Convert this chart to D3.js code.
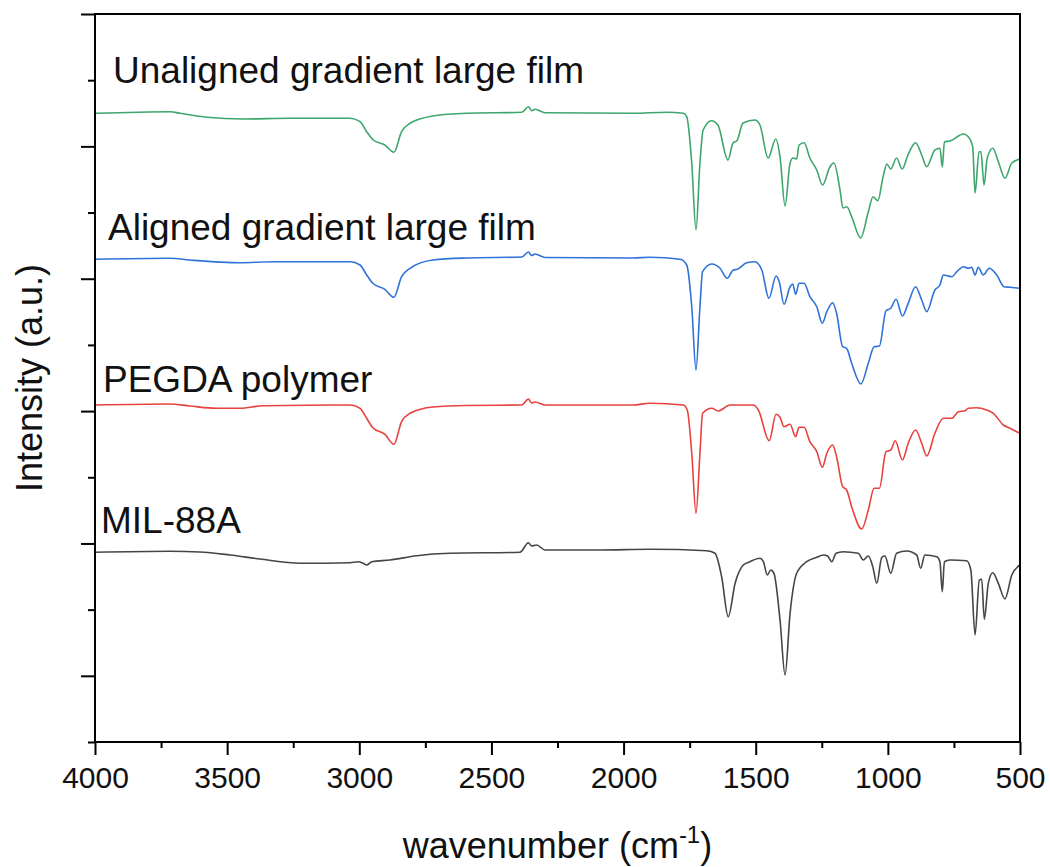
<!DOCTYPE html>
<html>
<head>
<meta charset="utf-8">
<script src="https://cdn.jsdelivr.net/npm/d3@7"></script>
<style>
  body { margin: 0; background: #fff; }
  svg text { font-family: "Liberation Sans", Arial, sans-serif; fill: #111; }
</style>
</head>
<body>
<div id="chart"></div>
<script>
// spectra: [wavenumber, intensity (a.u., stacked)]
var unalignedFilm = [
  [4000, 628.7], [3716, 630.3], [3678, 628.7], [3577, 624.7], [3439, 623], [3262, 623.7],
  [3035, 623.7], [2997, 620.3], [2972, 610.3], [2947, 602], [2903, 597], [2869, 589.7],
  [2840, 610.3], [2808, 618.7], [2721, 626], [2594, 628.7], [2385, 629.7], [2360, 635.3],
  [2348, 631.3], [2335, 632.7], [2297, 629.3], [1964, 628.7], [1837, 629.7], [1774, 628.7],
  [1761, 625.3], [1742, 579], [1726, 512], [1711, 579], [1699, 612], [1667, 621.3],
  [1643, 617], [1605, 582], [1586, 599], [1571, 601.3], [1548, 619], [1503, 622],
  [1484, 617], [1453, 584], [1424, 603], [1408, 585], [1389, 536], [1370, 579],
  [1359, 584], [1345, 583], [1336, 597], [1317, 599.3], [1295, 584], [1269, 572],
  [1247, 557], [1219, 575.3], [1204, 579], [1181, 552], [1170, 534], [1155, 535.3],
  [1137, 525.3], [1103, 504], [1075, 529], [1056, 545.3], [1038, 541.3], [1018, 565.3],
  [1004, 578], [989, 573], [967, 584], [946, 573], [924, 587], [895, 599.3],
  [872, 587], [853, 575.3], [822, 592], [803, 593.7], [794, 575], [786, 600.3],
  [765, 601], [714, 608], [696, 605.3], [679, 595.3], [670, 549], [655, 590.3],
  [648, 590.3], [636, 557], [624, 584], [603, 593.7], [582, 580.3], [557, 563.7],
  [531, 579], [500, 583]
];

var alignedFilm = [
  [4000, 482.7], [3716, 483.7], [3641, 482], [3451, 479.3], [3326, 480.3], [3035, 480.3],
  [2997, 477], [2972, 467], [2949, 458.7], [2903, 452.7], [2869, 444.7], [2840, 465.3],
  [2808, 473.7], [2721, 482], [2594, 484], [2385, 485], [2360, 490], [2348, 486.5],
  [2335, 488], [2297, 484.5], [1964, 484], [1900, 484.7], [1786, 482.7], [1761, 477],
  [1742, 435.3], [1726, 372], [1711, 435.3], [1701, 470.3], [1666, 478], [1635, 473.7],
  [1608, 463.7], [1585, 472], [1570, 472.7], [1534, 479.3], [1503, 480.3], [1477, 472],
  [1450, 443.7], [1423, 466], [1411, 460.3], [1393, 437.7], [1370, 455.3], [1360, 458],
  [1349, 447.7], [1336, 458.7], [1317, 458.7], [1295, 445.3], [1269, 435.3], [1248, 418.7],
  [1231, 430.3], [1209, 439.3], [1194, 428.7], [1171, 395.3], [1156, 393.7], [1137, 378.7],
  [1102, 358], [1074, 378.7], [1052, 395.3], [1032, 396], [1007, 431.3], [989, 433.7],
  [969, 442.7], [945, 426], [923, 438.7], [895, 455.3], [872, 442], [853, 430.3],
  [822, 452], [803, 457], [790, 467], [758, 465.3], [739, 470.3], [714, 475.3],
  [696, 473.7], [683, 474.7], [670, 467], [658, 474.7], [639, 467], [616, 473.7],
  [588, 467], [560, 455.3], [538, 454.7], [500, 453.7]
];

var pegdaPolymer = [
  [4000, 337], [3716, 338], [3641, 336], [3540, 333.7], [3451, 333.7], [3364, 336.3],
  [3035, 337], [2997, 333.7], [2972, 323.7], [2949, 314.3], [2903, 307.7], [2869, 297.7],
  [2840, 320.3], [2808, 328.7], [2721, 335], [2594, 336.5], [2385, 337], [2360, 343],
  [2348, 339], [2335, 340], [2297, 337], [1964, 337], [1900, 338.7], [1774, 337],
  [1759, 332], [1742, 288.7], [1726, 228.7], [1711, 288.7], [1701, 328.7], [1666, 333.7],
  [1642, 331], [1597, 337], [1509, 337], [1490, 332], [1449, 301.3], [1423, 327.7],
  [1408, 324.7], [1393, 315.3], [1370, 317.7], [1349, 305.3], [1336, 314.7], [1317, 314.7],
  [1295, 300.3], [1269, 290.3], [1248, 274.7], [1231, 288.7], [1209, 297], [1194, 285.3],
  [1171, 255.3], [1156, 252], [1137, 235.3], [1099, 213], [1074, 232], [1052, 253.7],
  [1032, 253.7], [1007, 290.3], [989, 292], [972, 301.3], [945, 282], [923, 298.7],
  [895, 312], [872, 298.7], [853, 286], [822, 308.7], [790, 323.7], [758, 323.7],
  [733, 330.3], [708, 331.3], [696, 333.7], [664, 334.3], [626, 332], [601, 328.7],
  [563, 317], [538, 313.7], [500, 308.7]
];

var mil88a = [
  [4000, 189.7], [3716, 190.7], [3603, 190], [3489, 187], [3376, 183], [3224, 178.7],
  [3035, 179.3], [3004, 180.3], [2985, 178.7], [2972, 177], [2953, 180.3], [2884, 182],
  [2783, 186.3], [2657, 188.7], [2392, 189.7], [2360, 199.3], [2348, 196], [2329, 197],
  [2297, 192], [2089, 192], [1900, 192.7], [1685, 191.3], [1654, 188.7], [1629, 165.3],
  [1604, 125.3], [1578, 158.7], [1547, 177], [1522, 180.3], [1484, 183.7], [1471, 180.3],
  [1456, 167], [1443, 172], [1431, 168.7], [1408, 122], [1389, 67], [1370, 128.7],
  [1345, 168.7], [1307, 180.3], [1269, 184.7], [1244, 187], [1228, 186], [1212, 180.3],
  [1196, 188.7], [1169, 190.3], [1112, 188.7], [1093, 182], [1074, 186], [1057, 175.3],
  [1042, 158.7], [1023, 184.7], [1011, 186], [989, 168.7], [967, 188.7], [929, 191],
  [891, 187], [876, 173.7], [860, 187], [815, 185.3], [803, 180.3], [794, 150.3],
  [786, 180.3], [765, 182], [702, 181.3], [686, 172], [670, 107], [654, 162],
  [645, 162.7], [635, 122.7], [620, 158.7], [603, 169.3], [582, 158.7], [557, 143],
  [531, 167], [500, 177]
];

var seriesNames = ['Unaligned gradient large film', 'Aligned gradient large film', 'PEGDA polymer', 'MIL-88A'];
var seriesColors = ['#3ca66c', '#2f72d8', '#e8413f', '#454545'];
var seriesData = [unalignedFilm, alignedFilm, pegdaPolymer, mil88a];
var labelAnchors = [[113, 83], [108, 240], [103, 392], [101, 533]];

var xMajorTicks = [4000, 3500, 3000, 2500, 2000, 1500, 1000, 500];
var xMinorTicks = [3750, 3250, 2750, 2250, 1750, 1250, 750];

var width = 1050,
  height = 867,
  plotLeft = 95,
  plotRight = 1020,
  plotTop = 14,
  plotBottom = 742;

var x = d3.scaleLinear().domain([4000, 500]).range([plotLeft, plotRight]);
var y = d3.scaleLinear().domain([0, 728]).range([plotBottom, plotTop]);

// 11 steps of the left axis, majors on the odd ones
var yAll = d3.range(12).map(function(i) { return i * 728 / 11; });
var yMajor = yAll.filter(function(d, i) { return i % 2 === 1; });
var yMinor = yAll.filter(function(d, i) { return i % 2 === 0; });

var svg = d3.select('#chart')
  .append('svg')
  .attr('width', width)
  .attr('height', height);

var line = d3.line()
  .x(function(d) { return x(d[0]); })
  .y(function(d) { return y(d[1]); })
  .curve(d3.curveMonotoneX);

svg.selectAll('path.spectrum')
  .data(seriesData)
  .enter()
  .append('path')
  .attr('class', 'spectrum')
  .attr('fill', 'none')
  .attr('stroke', function(d, i) { return seriesColors[i]; })
  .attr('stroke-width', 1.6)
  .attr('stroke-linejoin', 'round')
  .attr('d', line);

svg.selectAll('text.label')
  .data(seriesNames)
  .enter()
  .append('text')
  .attr('class', 'label')
  .attr('x', function(d, i) { return labelAnchors[i][0]; })
  .attr('y', function(d, i) { return labelAnchors[i][1]; })
  .style('font-size', '37px')
  .text(function(d) { return d; });

// frame
svg.append('rect')
  .attr('x', plotLeft)
  .attr('y', plotTop)
  .attr('width', plotRight - plotLeft)
  .attr('height', plotBottom - plotTop)
  .attr('fill', 'none')
  .attr('stroke', '#000')
  .attr('stroke-width', 2);

function styleAxis(g) {
  g.select('.domain').remove();
  g.selectAll('line').attr('stroke', '#000').attr('stroke-width', 2);
}

svg.append('g')
  .attr('transform', 'translate(0,' + plotBottom + ')')
  .call(d3.axisBottom(x).tickValues(xMinorTicks).tickSize(6).tickFormat(''))
  .call(styleAxis);

var xAxis = svg.append('g')
  .attr('transform', 'translate(0,' + plotBottom + ')')
  .call(d3.axisBottom(x).tickValues(xMajorTicks).tickSize(13).tickFormat(d3.format('d')))
  .call(styleAxis);

xAxis.selectAll('text')
  .attr('y', 46)
  .attr('dy', null)
  .style('font-size', '30px')
  .style('font-family', '"Liberation Sans", Arial, sans-serif')
  .attr('fill', '#111');

svg.append('g')
  .attr('transform', 'translate(' + plotLeft + ',0)')
  .call(d3.axisLeft(y).tickValues(yMinor).tickSize(7).tickFormat(''))
  .call(styleAxis);

svg.append('g')
  .attr('transform', 'translate(' + plotLeft + ',0)')
  .call(d3.axisLeft(y).tickValues(yMajor).tickSize(14).tickFormat(''))
  .call(styleAxis);

// axis titles
var xTitle = svg.append('text')
  .attr('x', (plotLeft + plotRight) / 2)
  .attr('y', 858)
  .attr('text-anchor', 'middle')
  .style('font-size', '36px');
xTitle.append('tspan').text('wavenumber (cm');
xTitle.append('tspan').attr('dy', -15).style('font-size', '24px').text('-1');
xTitle.append('tspan').attr('dy', 15).text(')');

svg.append('text')
  .attr('transform', 'translate(42,' + (plotTop + plotBottom) / 2 + ') rotate(-90)')
  .attr('text-anchor', 'middle')
  .style('font-size', '36px')
  .text('Intensity (a.u.)');
</script>
</body>
</html>
